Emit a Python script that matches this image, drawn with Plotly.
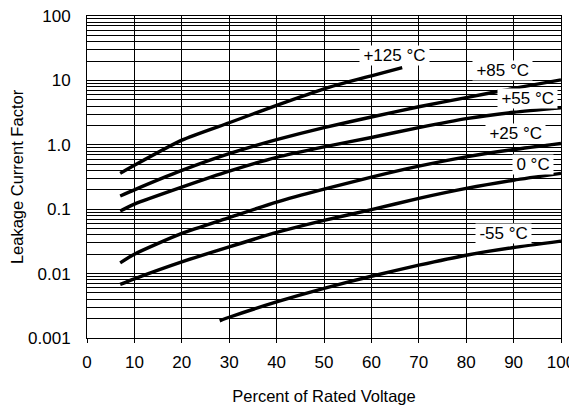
import math
import plotly.graph_objects as go

# Data
x_125 = [7, 10, 20, 30, 40, 50, 60, 66.5]
y_125 = [0.36, 0.48, 1.18, 2.2, 4.1, 7.4, 11.8, 15.8]

x_std = [7, 10, 20, 30, 40, 50, 60, 70, 80, 90, 100]
y_85 = [0.16, 0.2, 0.40, 0.73, 1.2, 1.85, 2.7, 3.9, 5.4, 7.5, 10.2]
y_55 = [0.094, 0.12, 0.22, 0.39, 0.64, 0.93, 1.3, 1.85, 2.55, 3.2, 3.75]
y_25 = [0.0147, 0.02, 0.042, 0.074, 0.129, 0.205, 0.315, 0.466, 0.65, 0.845, 1.05]
y_0 = [0.0068, 0.0083, 0.0152, 0.026, 0.0435, 0.067, 0.0985, 0.147, 0.21, 0.282, 0.36]

x_m55 = [28, 30, 40, 50, 60, 70, 80, 90, 100]
y_m55 = [0.00185, 0.0021, 0.00363, 0.0059, 0.0091, 0.0135, 0.0193, 0.0254, 0.032]

label_text = ["+125 °C", "+85 °C", "+55 °C", "+25 °C", "0 °C", "-55 °C"]
label_x = [64.9, 87.6, 92.9, 90.5, 94.0, 87.9]
label_y = [24.6, 14.4, 5.24, 1.50, 0.50, 0.0419]

x_ticks = [0, 10, 20, 30, 40, 50, 60, 70, 80, 90, 100]
y_tickvals = [0.001, 0.01, 0.1, 1, 10, 100]
y_ticktext = ["0.001", "0.01", "0.1", "1.0", "10", "100"]

FONT = "Liberation Sans, Arial, sans-serif"

fig = go.Figure()
series = [(x_125, y_125), (x_std, y_85), (x_std, y_55), (x_std, y_25), (x_std, y_0), (x_m55, y_m55)]
for xs, ys in series:
    fig.add_trace(go.Scatter(x=xs, y=ys, mode="lines",
                             line=dict(color="black", width=3.4, shape="spline", smoothing=0.6),
                             showlegend=False, hoverinfo="skip"))

for t, lx, ly in zip(label_text, label_x, label_y):
    fig.add_annotation(x=lx, y=math.log10(ly), yref="y", xref="x",
                       text="\u2009" + t + "\u2009", showarrow=False,
                       font=dict(family=FONT, size=17, color="black"),
                       bgcolor="white", borderpad=0)

# page body adds an 8px offset, so the figure is sized 8px smaller
fig.update_layout(
    width=569, height=400,
    margin=dict(l=79, r=16, t=8, b=70, autoexpand=False),
    paper_bgcolor="white", plot_bgcolor="white",
    font=dict(family=FONT, size=17, color="black"),
)
fig.update_xaxes(
    range=[0, 100], tickvals=x_ticks, ticktext=[str(v) for v in x_ticks],
    showgrid=True, gridcolor="black", gridwidth=1,
    showline=True, linecolor="black", linewidth=1, mirror=True,
    ticks="outside", ticklen=4, tickcolor="black", ticklabelstandoff=5,
    zeroline=False, automargin=False, ticklabeloverflow="allow",
    title=dict(text="Percent of Rated Voltage", font=dict(size=16.5), standoff=19),
)
fig.update_yaxes(
    type="log", range=[-3, 2], tickvals=y_tickvals, ticktext=y_ticktext,
    showgrid=True, gridcolor="black", gridwidth=1,
    minor=dict(dtick="D1", showgrid=True, gridcolor="black", gridwidth=1, ticks=""),
    showline=True, linecolor="black", linewidth=1, mirror=True,
    ticks="outside", ticklen=12, tickcolor="white",
    zeroline=False, automargin=False, ticklabeloverflow="allow",
    title=dict(text="Leakage Current Factor", font=dict(size=16.5), standoff=8),
)

fig.write_html("out.html")
